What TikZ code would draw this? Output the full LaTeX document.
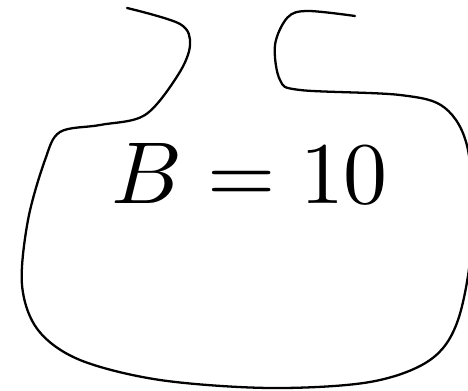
\documentclass[tikz,border=0pt]{standalone}
\begin{document}
\begin{tikzpicture}
  \useasboundingbox (0,0) rectangle (9.36,7.8);
  \clip (0,0) rectangle (9.36,7.8);
  % ---------- blob outline ----------
  \draw[line width=1.3pt, line cap=round] plot[smooth, tension=0.55] coordinates {
    (2.54,7.64) (3.6,7.32) (3.8,6.9) (3.56,6.3) (2.9,5.5) (2.0,5.3)
    (1.2,5.16) (0.9,4.6) (0.56,3.4) (0.44,2.1) (0.76,1.2) (1.6,0.6)
    (3.2,0.2) (5.4,0.04) (7.4,0.16) (8.6,0.6) (9.16,1.4) (9.44,3.0)
    (9.36,4.8) (8.9,5.64) (8.0,5.9) (6.0,6.0) (5.6,6.2) (5.5,6.9)
    (5.75,7.45) (6.15,7.58) (7.1,7.48)};
  % label
  \node[scale=5, inner sep=0pt] (lbl) at (5.0,4.34) {$B=10$};
\end{tikzpicture}
\end{document}
